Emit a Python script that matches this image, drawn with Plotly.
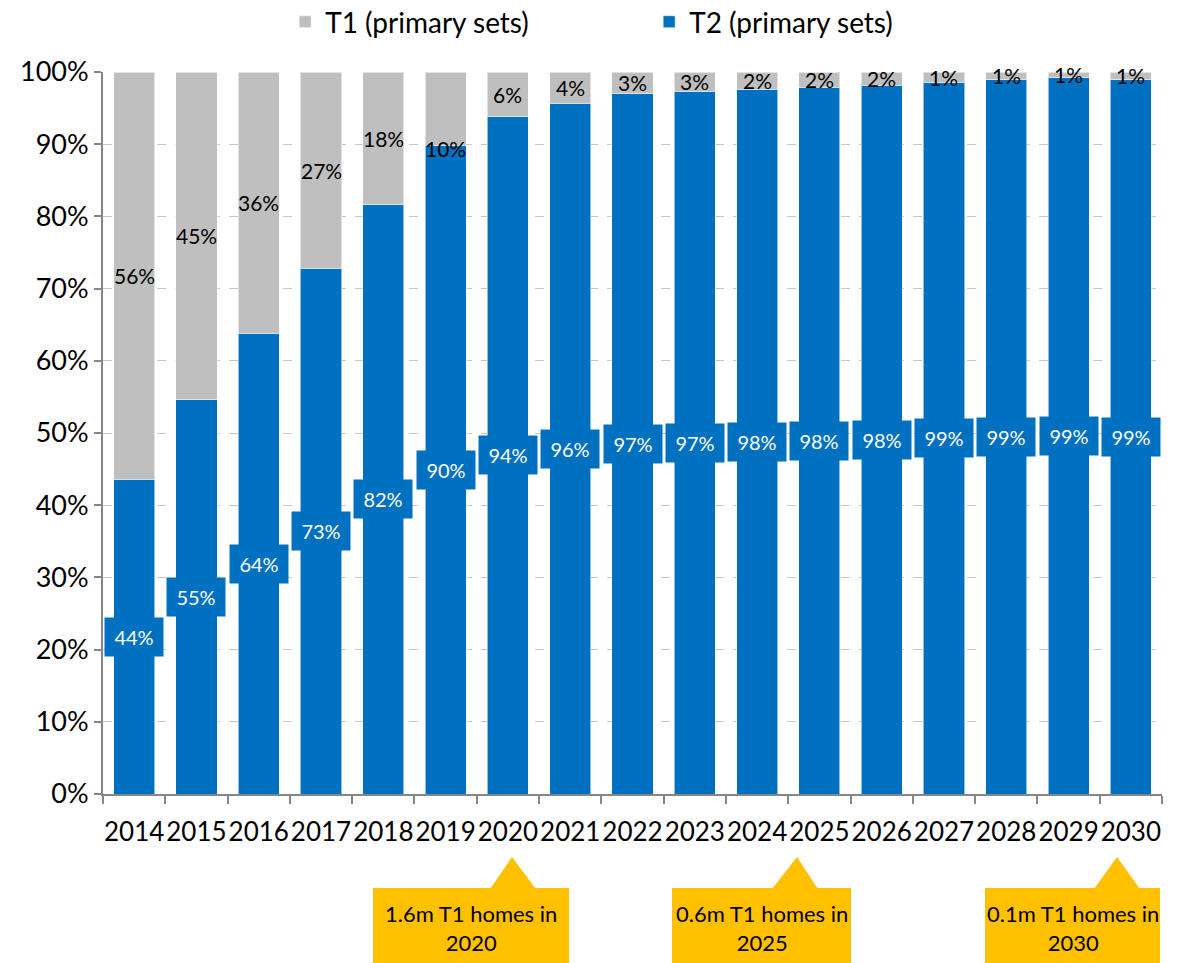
import plotly.graph_objects as go

years = [str(y) for y in range(2014, 2031)]
t2_share = [43.6, 54.6, 63.8, 72.8, 81.6, 89.8, 93.8, 95.7, 97.0, 97.3, 97.6, 97.9, 98.2, 98.6, 98.9, 99.2, 98.9]
t1_share = [round(100 - v, 1) for v in t2_share]

callout_texts = ['1.6m T1 homes in<br>2020', '0.6m T1 homes in<br>2025', '0.1m T1 homes in<br>2030']

BLUE = '#0070C0'
GREY = '#BFBFBF'
YELLOW = '#FFC000'
FONT = 'Lato, Open Sans, sans-serif'

# page is 1202 x 963, the figure div sits 8px in from the body edge
OFF = 8
W, H = 1202 - OFF, 963 - OFF
L, R, T, B = 103 - OFF, 40, 72 - OFF, 169


def px_x(p):
    return (p - OFF - L) / (W - L - R)


def px_y(p):
    return (H - B - (p - OFF)) / (H - T - B)


fig = go.Figure()

fig.add_trace(go.Bar(
    x=years, y=t2_share, name='T2 (primary sets)',
    marker=dict(color=BLUE, line=dict(color='rgba(255,255,255,0.55)', width=1)),
    hoverinfo='x+y'
))
fig.add_trace(go.Bar(
    x=years, y=t1_share, name='T1 (primary sets)',
    marker=dict(color=GREY, line=dict(color='rgba(255,255,255,0.55)', width=1)),
    hoverinfo='x+y'
))

# T1 labels (black, centred on grey segment)
label_shift = {'2019': -40}
for i, (yr, a, b) in enumerate(zip(years, t2_share, t1_share)):
    fig.add_annotation(
        x=i, y=a + b / 2, text=f'{b:.0f}%', showarrow=False,
        font=dict(family=FONT, size=21, color='black'),
        xanchor='center', yanchor='middle',
        yshift=label_shift.get(yr, 0)
    )

# T2 labels (white on blue boxes)
for i, a in enumerate(t2_share):
    fig.add_annotation(
        x=i, y=a / 2, text=f'{a:.0f}%', showarrow=False,
        font=dict(family=FONT, size=20, color='white'),
        xanchor='center', yanchor='middle',
        bgcolor=BLUE, width=50, height=30, borderpad=4
    )

# yellow callouts below the axis: (box left, box right, apex x, base left, base right)
callouts = [(373, 569, 512, 490, 536), (672, 851, 797, 772, 818), (985, 1160, 1117, 1094, 1140)]
box_top, box_bottom, apex_y = 888, 975, 857
for (x0, x1, ax, b0, b1), txt in zip(callouts, callout_texts):
    fig.add_shape(type='rect', xref='paper', yref='paper',
                  x0=px_x(x0), x1=px_x(x1), y0=px_y(box_bottom), y1=px_y(box_top),
                  fillcolor=YELLOW, line=dict(width=0), layer='above')
    path = (f'M {px_x(b0)} {px_y(box_top + 1)} L {px_x(ax)} {px_y(apex_y)} '
            f'L {px_x(b1)} {px_y(box_top + 1)} Z')
    fig.add_shape(type='path', xref='paper', yref='paper', path=path,
                  fillcolor=YELLOW, line=dict(width=0), layer='above')
    fig.add_annotation(xref='paper', yref='paper',
                       x=px_x((x0 + x1) / 2), y=px_y(928), text=txt, showarrow=False,
                       xanchor='center', yanchor='middle',
                       font=dict(family=FONT, size=22, color='black'), align='center')

fig.update_layout(
    barmode='stack',
    bargap=0.34,
    width=W, height=H,
    margin=dict(l=L, r=R, t=T, b=B, autoexpand=False),
    plot_bgcolor='white',
    paper_bgcolor='white',
    font=dict(family=FONT, size=22, color='black'),
    showlegend=True,
    legend=dict(orientation='h', x=0.172, y=px_y(22), yref='paper', yanchor='middle',
                xanchor='left', traceorder='reversed', entrywidth=319,
                font=dict(family=FONT, size=28)),
    xaxis=dict(
        type='category', range=[-0.5, len(years) - 0.5],
        showline=True, linecolor='#868686', linewidth=2,
        ticks='outside', tickson='boundaries', ticklen=8, tickcolor='#868686',
        tickwidth=2, tickfont=dict(family=FONT, size=26), tickangle=0,
        ticklabelstandoff=14, showgrid=False
    ),
    yaxis=dict(
        range=[0, 100], dtick=10, ticksuffix='%', showline=True,
        linecolor='#868686', linewidth=2, ticks='outside', ticklen=7,
        tickcolor='#868686', tickwidth=2, tickfont=dict(family=FONT, size=27),
        gridcolor='#C8C8C8', griddash='dash', gridwidth=1, zeroline=False
    ),
)

fig.write_html('out.html')
